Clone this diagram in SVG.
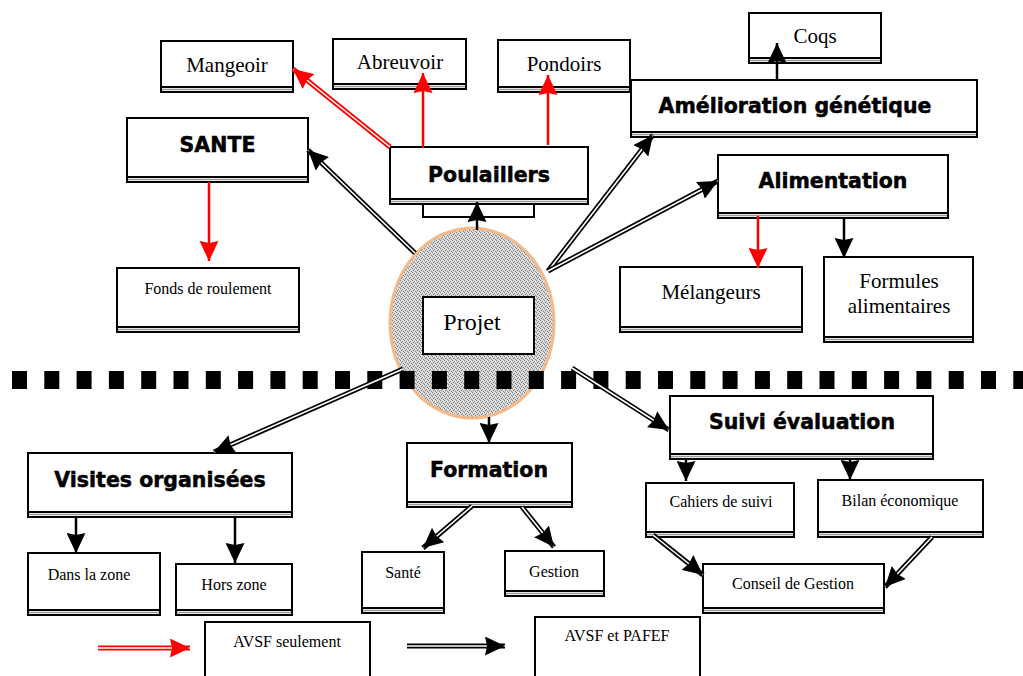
<svg xmlns="http://www.w3.org/2000/svg" width="1023" height="676" viewBox="0 0 1023 676">
<defs>
<style>
.bx{fill:#fff;stroke:#000;stroke-width:2}
.bl{stroke:#000;stroke-width:2;fill:none}
.gl{stroke:#999;stroke-width:1.6;fill:none}
.t{font-family:"Liberation Serif","Times New Roman",serif;fill:#000;text-anchor:middle}
.tl{font-size:21px}
.ts{font-size:16px}
.b{font-family:"DejaVu Sans",sans-serif;font-weight:bold;font-size:20.5px;fill:#000;stroke:#000;stroke-width:0.5;text-anchor:middle}
.s{stroke:#000;stroke-width:2.5;fill:none}
.sr{stroke:#f00;stroke-width:2.5;fill:none}
.do{stroke:#000;stroke-width:5;fill:none}
.di{stroke:#fff;stroke-width:1.6;fill:none}
.dor{stroke:#f00;stroke-width:5;fill:none}
</style>
<marker id="ak" markerUnits="userSpaceOnUse" markerWidth="21" markerHeight="19" refX="20" refY="9.5" orient="auto">
<path d="M0,0 L20,9.5 L0,19 L2,9.5 z" fill="#000"/>
</marker>
<marker id="ar" markerUnits="userSpaceOnUse" markerWidth="21" markerHeight="19" refX="20" refY="9.5" orient="auto">
<path d="M0,0 L20,9.5 L0,19 L2,9.5 z" fill="#f00"/>
</marker>
<pattern id="stip" width="4" height="4" patternUnits="userSpaceOnUse">
<rect width="4" height="4" fill="#d6d6d6"/>
<rect x="0" y="0" width="1" height="1" fill="#7a7a7a"/>
<rect x="2" y="1" width="1" height="1" fill="#8a8a8a"/>
<rect x="1" y="2" width="1" height="1" fill="#7a7a7a"/>
<rect x="3" y="3" width="1" height="1" fill="#8a8a8a"/>
<rect x="3" y="1" width="1" height="1" fill="#f2f2f2"/>
<rect x="1" y="0" width="1" height="1" fill="#f2f2f2"/>
</pattern>
</defs>
<rect width="1023" height="676" fill="#fff"/>

<g id="projet">
<ellipse cx="472" cy="323" rx="82" ry="95" fill="url(#stip)" stroke="#f5b886" stroke-width="3"/>
<rect class="bx" x="423" y="297" width="111" height="57"/>
<text class="t" x="472" y="330" font-size="24">Projet</text>
</g>

<g id="separator">
<line x1="12" y1="380" x2="1023" y2="380" stroke="#000" stroke-width="18" stroke-dasharray="15 17.3"/>
</g>

<g id="mangeoir">
<rect class="bx" x="161" y="41" width="132" height="51"/>
<line class="gl" x1="162" y1="89.5" x2="292" y2="89.5"/>
<line class="bl" x1="161" y1="87" x2="293" y2="87"/>
<text class="t tl" x="227" y="72">Mangeoir</text>
</g>
<g id="abreuvoir">
<rect class="bx" x="333" y="39" width="133" height="50"/>
<line class="gl" x1="334" y1="86.5" x2="465" y2="86.5"/>
<line class="bl" x1="333" y1="84" x2="466" y2="84"/>
<text class="t tl" x="400" y="69">Abreuvoir</text>
</g>
<g id="pondoirs">
<rect class="bx" x="498" y="40" width="132" height="52"/>
<line class="gl" x1="499" y1="89.5" x2="629" y2="89.5"/>
<line class="bl" x1="498" y1="87" x2="630" y2="87"/>
<text class="t tl" x="564" y="71">Pondoirs</text>
</g>
<g id="coqs">
<rect class="bx" x="749" y="13" width="132" height="50"/>
<line class="gl" x1="750" y1="60.5" x2="880" y2="60.5"/>
<line class="bl" x1="749" y1="58" x2="881" y2="58"/>
<text class="t tl" x="815" y="43">Coqs</text>
</g>
<g id="sante">
<rect class="bx" x="127" y="118" width="181" height="64"/>
<line class="gl" x1="128" y1="179.5" x2="307" y2="179.5"/>
<line class="bl" x1="127" y1="177" x2="308" y2="177"/>
<text class="b" x="217.5" y="152">SANTE</text>
</g>
<g id="amelioration">
<rect class="bx" x="631" y="80" width="346" height="57"/>
<line class="gl" x1="632" y1="134.5" x2="976" y2="134.5"/>
<line class="bl" x1="631" y1="132" x2="977" y2="132"/>
<text class="b" x="795" y="113">Amélioration génétique</text>
</g>
<g id="poulaillers">
<rect class="bx" x="423" y="200" width="111" height="17"/>
<rect class="bx" x="390" y="147" width="198" height="57"/>
<line class="gl" x1="391" y1="201.5" x2="587" y2="201.5"/>
<line class="bl" x1="390" y1="199" x2="588" y2="199"/>
<text class="b" x="489" y="182">Poulaillers</text>
</g>
<g id="alimentation">
<rect class="bx" x="718" y="155" width="230" height="63"/>
<line class="gl" x1="719" y1="215.5" x2="947" y2="215.5"/>
<line class="bl" x1="718" y1="213" x2="948" y2="213"/>
<text class="b" x="833" y="188">Alimentation</text>
</g>
<g id="fonds">
<rect class="bx" x="117" y="268" width="182" height="64"/>
<line class="gl" x1="118" y1="329.5" x2="298" y2="329.5"/>
<line class="bl" x1="117" y1="327" x2="299" y2="327"/>
<text class="t ts" x="208" y="294">Fonds de roulement</text>
</g>
<g id="melangeurs">
<rect class="bx" x="620" y="267" width="182" height="65"/>
<line class="gl" x1="621" y1="329.5" x2="801" y2="329.5"/>
<line class="bl" x1="620" y1="327" x2="802" y2="327"/>
<text class="t tl" x="711" y="299">Mélangeurs</text>
</g>
<g id="formules">
<rect class="bx" x="824" y="257" width="149" height="85"/>
<line class="gl" x1="825" y1="339.5" x2="972" y2="339.5"/>
<line class="bl" x1="824" y1="337" x2="973" y2="337"/>
<text class="t tl" x="899" y="288">Formules</text>
<text class="t tl" x="899" y="313">alimentaires</text>
</g>
<g id="visites">
<rect class="bx" x="28" y="453" width="264" height="64"/>
<line class="gl" x1="29" y1="514.5" x2="291" y2="514.5"/>
<line class="bl" x1="28" y1="512" x2="292" y2="512"/>
<text class="b" x="160" y="487">Visites organisées</text>
</g>
<g id="danslazone">
<rect class="bx" x="28" y="553" width="132" height="62"/>
<line class="gl" x1="29" y1="612.5" x2="159" y2="612.5"/>
<line class="bl" x1="28" y1="610" x2="160" y2="610"/>
<text class="t ts" x="89" y="580">Dans la zone</text>
</g>
<g id="horszone">
<rect class="bx" x="176" y="564" width="116" height="51"/>
<line class="gl" x1="177" y1="612.5" x2="291" y2="612.5"/>
<line class="bl" x1="176" y1="610" x2="292" y2="610"/>
<text class="t ts" x="234" y="590">Hors zone</text>
</g>
<g id="formation">
<rect class="bx" x="407" y="443" width="165" height="64"/>
<line class="gl" x1="408" y1="504.5" x2="571" y2="504.5"/>
<line class="bl" x1="407" y1="502" x2="572" y2="502"/>
<text class="b" x="489" y="477">Formation</text>
</g>
<g id="santef">
<rect class="bx" x="362" y="552" width="82" height="61"/>
<line class="gl" x1="363" y1="610.5" x2="443" y2="610.5"/>
<line class="bl" x1="362" y1="608" x2="444" y2="608"/>
<text class="t ts" x="403" y="578">Santé</text>
</g>
<g id="gestion">
<rect class="bx" x="505" y="551" width="99" height="45"/>
<line class="gl" x1="506" y1="593.5" x2="603" y2="593.5"/>
<line class="bl" x1="505" y1="591" x2="604" y2="591"/>
<text class="t ts" x="554" y="577">Gestion</text>
</g>
<g id="suivi">
<rect class="bx" x="670" y="396" width="263" height="63"/>
<line class="gl" x1="671" y1="456.5" x2="932" y2="456.5"/>
<line class="bl" x1="670" y1="454" x2="933" y2="454"/>
<text class="b" x="802" y="429">Suivi évaluation</text>
</g>
<g id="cahiers">
<rect class="bx" x="646" y="483" width="148" height="54"/>
<line class="gl" x1="647" y1="534.5" x2="793" y2="534.5"/>
<line class="bl" x1="646" y1="532" x2="794" y2="532"/>
<text class="t ts" x="721" y="507">Cahiers de suivi</text>
</g>
<g id="bilan">
<rect class="bx" x="818" y="480" width="165" height="57"/>
<line class="gl" x1="819" y1="534.5" x2="982" y2="534.5"/>
<line class="bl" x1="818" y1="532" x2="983" y2="532"/>
<text class="t ts" x="900" y="506">Bilan économique</text>
</g>
<g id="conseil">
<rect class="bx" x="703" y="564" width="181" height="49"/>
<line class="gl" x1="704" y1="610.5" x2="883" y2="610.5"/>
<line class="bl" x1="703" y1="608" x2="884" y2="608"/>
<text class="t ts" x="793" y="589">Conseil de Gestion</text>
</g>
<g id="legend-avsf">
<rect class="bx" x="205" y="622" width="165" height="60"/>
<text class="t ts" x="287" y="647">AVSF seulement</text>
</g>
<g id="legend-avsf-pafef">
<rect class="bx" x="535" y="617" width="165" height="65"/>
<text class="t ts" x="617" y="641">AVSF et PAFEF</text>
</g>

<g id="connectors">
<path class="do" d="M415,253 L308,150"/><path class="di" d="M415,253 L308,150" marker-end="url(#ak)"/>
<path class="do" d="M548,271 L653,135"/><path class="di" d="M548,271 L653,135" marker-end="url(#ak)"/>
<path class="do" d="M548,271 L718,181"/><path class="di" d="M548,271 L718,181" marker-end="url(#ak)"/>
<path class="do" d="M403,369 L214,452"/><path class="di" d="M403,369 L214,452" marker-end="url(#ak)"/>
<path class="do" d="M572,368 L669,430"/><path class="di" d="M572,368 L669,430" marker-end="url(#ak)"/>
<path class="do" d="M472,506 L423,548"/><path class="di" d="M472,506 L423,548" marker-end="url(#ak)"/>
<path class="do" d="M522,507 L554,547"/><path class="di" d="M522,507 L554,547" marker-end="url(#ak)"/>
<path class="do" d="M653,535 L703,575"/><path class="di" d="M653,535 L703,575" marker-end="url(#ak)"/>
<path class="do" d="M932,537 L885,587"/><path class="di" d="M932,537 L885,587" marker-end="url(#ak)"/>
<path class="do" d="M407,646 L505,646"/><path class="di" d="M407,646 L505,646" marker-end="url(#ak)"/>
<path class="dor" d="M390,147 L293,69"/><path class="di" d="M390,147 L293,69" marker-end="url(#ar)"/>
<path class="dor" d="M98,648 L190,648"/><path class="di" d="M98,648 L190,648" marker-end="url(#ar)"/>
<path class="sr" d="M423,148 L423,73" marker-end="url(#ar)"/>
<path class="sr" d="M548,145 L548,75" marker-end="url(#ar)"/>
<path class="sr" d="M209,182 L209,261" marker-end="url(#ar)"/>
<path class="sr" d="M758,216 L758,268" marker-end="url(#ar)"/>
<path class="s" d="M477,230 L477,202" marker-end="url(#ak)"/>
<path class="s" d="M777,80 L777,43" marker-end="url(#ak)"/>
<path class="s" d="M844,218 L844,258" marker-end="url(#ak)"/>
<path class="s" d="M489,417 L489,443" marker-end="url(#ak)"/>
<path class="s" d="M76,517 L76,553" marker-end="url(#ak)"/>
<path class="s" d="M235,517 L235,563" marker-end="url(#ak)"/>
<path class="s" d="M686,459 L686,481" marker-end="url(#ak)"/>
<path class="s" d="M850,459 L850,480" marker-end="url(#ak)"/>
</g>
</svg>
